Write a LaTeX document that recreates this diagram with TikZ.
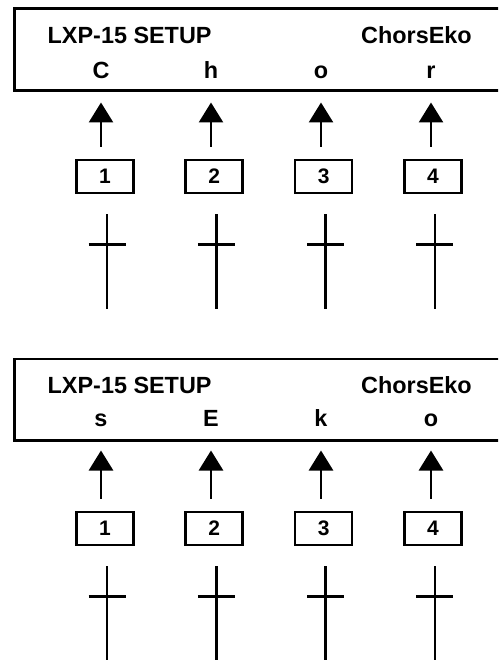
\documentclass[tikz,border=0pt]{standalone}
\usepackage{fontspec}
\setmainfont{Liberation Sans}
\usetikzlibrary{arrows.meta,positioning,calc}

\begin{document}
\begin{tikzpicture}[
    x=1pt, y=-1pt,
    displaynode/.style={rectangle, draw=black, line width=2.7pt, anchor=north west, minimum width=510pt, minimum height=81.5pt, inner sep=0pt},
    titlenode/.style={anchor=base west, inner sep=0pt, font=\fontsize{23.4}{28}\selectfont\bfseries},
    charnode/.style={titlenode, anchor=base, text depth=0pt},
    keynode/.style={rectangle, draw=black, line width=2.7pt, minimum width=57pt, minimum height=33pt, inner sep=0pt, font=\fontsize{21}{25}\selectfont\bfseries},
    uparrow/.style={line width=2.8pt, -{Triangle[width=24pt,length=20pt]}, shorten <=12pt, shorten >=24pt},
    faderline/.style={line width=2.8pt},
    black
    ]
    \clip (0,0) rectangle (498,660);

    \foreach \p/\dy/\dc/\dk/\word in {a/0/0/0/{C,h,o,r}, b/350/348/352/{s,E,k,o}} {
        %Nodes
        \node[displaynode] (disp\p) at (13,{7.5+\dy}) {};
        \node[titlenode]   (setup\p) at (47.5,{43.3+\dy}) {LXP-15 SETUP};
        \node[titlenode]   (patch\p) at (361,{43.3+\dy}) {ChorsEko};

        \foreach \c [count=\i] in \word {
            \node[charnode] (char\p\i) at ({101+110*(\i-1)},{78.3+\dc}) {\c};
            \node[keynode]  (key\p\i)  at ({105+109.3*(\i-1)},{176.5+\dk}) {\i};

            %Lines
            \draw[uparrow] (key\p\i.north -| char\p\i) -- (char\p\i.south);
            \draw[faderline] ($(key\p\i.south)+(2,19.7)$) -- ++(0,95.3);
            \draw[faderline] ($(key\p\i.south)+(-16.5,50.3)$) -- ++(37,0);
        }
    }
\end{tikzpicture}
\end{document}
